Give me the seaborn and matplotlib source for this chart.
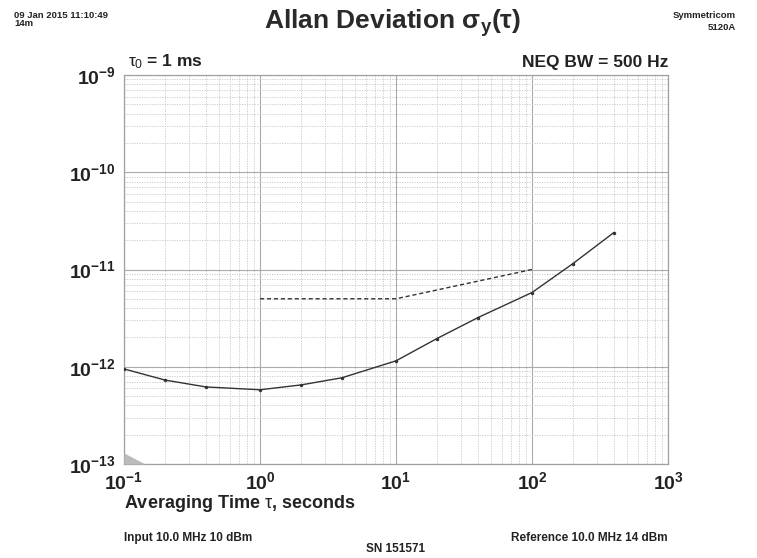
import matplotlib
matplotlib.use("Agg")
import matplotlib.pyplot as plt
import seaborn as sns
import numpy as np
import pandas as pd
from matplotlib.ticker import LogLocator, NullFormatter

# ---- data ----
tau = [0.1, 0.2, 0.4, 1, 2, 4, 10, 20, 40, 100, 200, 400]
adev = [9.5e-13, 7.3e-13, 6.2e-13, 5.8e-13, 6.5e-13, 7.7e-13,
        1.15e-12, 1.95e-12, 3.2e-12, 5.8e-12, 1.15e-11, 2.4e-11]
limit_tau = [1, 10, 100]
limit_adev = [5.0e-12, 5.0e-12, 1.0e-11]
floor_tau = [0.1, 0.143]
floor_adev = [1.3e-13, 1.0e-13]
xtick_vals = [1e-1, 1e0, 1e1, 1e2, 1e3]
xtick_labels = [r"$\mathbf{10^{-1}}$", r"$\mathbf{10^{0}}$", r"$\mathbf{10^{1}}$",
                r"$\mathbf{10^{2}}$", r"$\mathbf{10^{3}}$"]
ytick_vals = [1e-13, 1e-12, 1e-11, 1e-10, 1e-9]
ytick_labels = [r"$\mathbf{10^{-13}}$", r"$\mathbf{10^{-12}}$", r"$\mathbf{10^{-11}}$",
                r"$\mathbf{10^{-10}}$", r"$\mathbf{10^{-9}}$"]

sns.set_style("white")
plt.rcParams["font.family"] = ["Liberation Sans", "DejaVu Sans"]
plt.rcParams["mathtext.fontset"] = "custom"
plt.rcParams["mathtext.rm"] = "Liberation Sans"
plt.rcParams["mathtext.it"] = "Liberation Sans"
plt.rcParams["mathtext.bf"] = "Liberation Sans:bold"

fig = plt.figure(figsize=(7.57, 5.58), dpi=100)
ax = fig.add_axes([124/757, 1-464/558, (668-124)/757, (464-75)/558])

df = pd.DataFrame({"tau": tau, "adev": adev})
sns.lineplot(data=df, x="tau", y="adev", ax=ax, color="#333333", lw=1.0,
             marker="o", markersize=2.5, markeredgewidth=0, zorder=5)
dl = pd.DataFrame({"tau": limit_tau, "adev": limit_adev})
sns.lineplot(data=dl, x="tau", y="adev", ax=ax, color="#333333", lw=1.0,
             linestyle=(0, (3, 2)), zorder=5)
ax.fill_between(floor_tau, floor_adev, 1e-13, color="#bbbbbb", lw=0, zorder=4)

ax.set_xscale("log")
ax.set_yscale("log")
ax.set_xlim(0.1, 1000)
ax.set_ylim(1e-13, 1e-9)

ax.xaxis.set_minor_locator(LogLocator(base=10, subs=np.arange(2, 10)))
ax.yaxis.set_minor_locator(LogLocator(base=10, subs=np.arange(2, 10)))
ax.xaxis.set_minor_formatter(NullFormatter())
ax.yaxis.set_minor_formatter(NullFormatter())
ax.set_xticks(xtick_vals)
ax.set_xticklabels(xtick_labels, fontsize=14)
ax.set_yticks(ytick_vals)
ax.set_yticklabels(ytick_labels, fontsize=14)
ax.tick_params(which="both", length=0, pad=6, colors="#222222")
ax.tick_params(axis="x", pad=5)

ax.grid(which="major", color="#ababab", lw=0.8, ls="-")
ax.grid(which="minor", color="#c6c6c6", lw=0.6, ls=(0, (1.5, 1.5)))
ax.set_axisbelow(True)
for s in ax.spines.values():
    s.set_color("#a0a0a0")
    s.set_linewidth(0.9)

ax.set_xlabel("")
ax.set_ylabel("")

fig.text(393/757, 1-23/558, r"Allan Deviation $\mathbf{\sigma_y(\tau)}$", ha="center", va="center",
         fontsize=19, fontweight="bold", color="#2a2a2a")
fig.text(128/757, 1-62/558, r"$\tau_0$ = 1 ms", ha="left", va="center",
         fontsize=12.5, fontweight="bold", color="#222222")
fig.text(668/757, 1-62/558, "NEQ BW = 500 Hz", ha="right", va="center",
         fontsize=12.5, fontweight="bold", color="#222222")
fig.text(124/757, 1-504/558, r"Averaging Time $\tau$, seconds", ha="left", va="center",
         fontsize=13, fontweight="bold", color="#222222")
fig.text(124/757, 1-538/558, "Input 10.0 MHz 10 dBm", ha="left", va="center",
         fontsize=8.5, fontweight="bold", color="#222222")
fig.text(668/757, 1-538/558, "Reference 10.0 MHz 14 dBm", ha="right", va="center",
         fontsize=8.5, fontweight="bold", color="#222222")
fig.text(396/757, 1-549/558, "SN 151571", ha="center", va="center",
         fontsize=8.5, fontweight="bold", color="#222222")
fig.text(14/757, 1-15/558, "09 Jan 2015 11:10:49", ha="left", va="center",
         fontsize=6.8, fontweight="bold", color="#222222")
fig.text(14/757, 1-24/558, "14m", ha="left", va="center",
         fontsize=6.8, fontweight="bold", color="#222222")
fig.text(736/757, 1-16/558, "Symmetricom", ha="right", va="center",
         fontsize=6.8, fontweight="bold", color="#222222")
fig.text(736/757, 1-27/558, "5120A", ha="right", va="center",
         fontsize=6.8, fontweight="bold", color="#222222")

fig.savefig("out.png", dpi=100, facecolor="white")
